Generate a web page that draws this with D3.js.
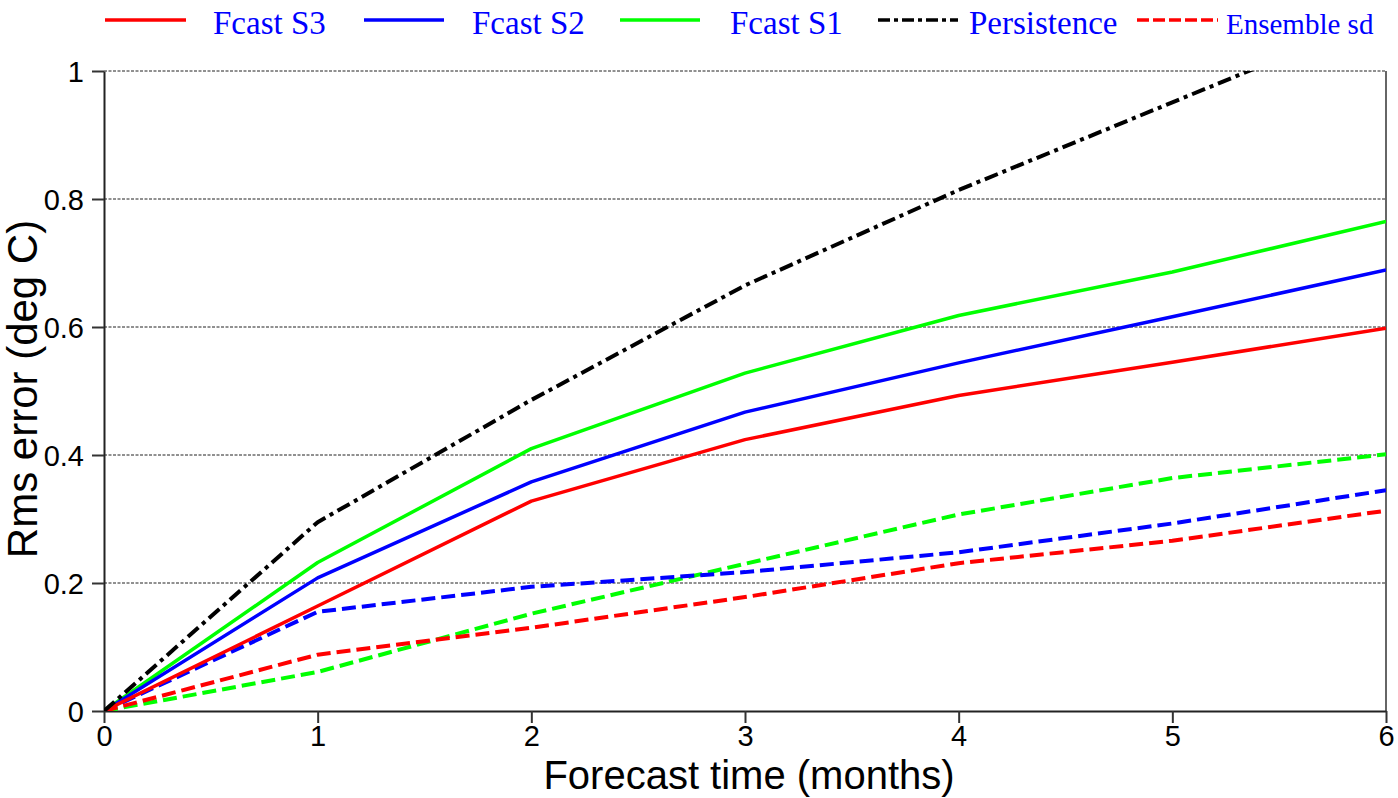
<!DOCTYPE html>
<html>
<head>
<meta charset="utf-8">
<script src="https://cdn.jsdelivr.net/npm/d3@7"></script>
<style>
  html, body { margin: 0; padding: 0; background: #fff; }
  svg { display: block; }
</style>
</head>
<body>
<div id="chart"></div>
<script>
// Data (rms error in deg C by forecast month)
const months = [0, 1, 2, 3, 4, 5, 6];
const fcastS3 = [0, 0.164, 0.328, 0.424, 0.493, 0.545, 0.598];
const fcastS2 = [0, 0.208, 0.358, 0.467, 0.544, 0.616, 0.689];
const fcastS1 = [0, 0.232, 0.410, 0.528, 0.618, 0.686, 0.765];
const persistence = [0, 0.295, 0.486, 0.665, 0.814, 0.951, 1.088];
const sdS3 = [0, 0.088, 0.130, 0.178, 0.231, 0.266, 0.313];
const sdS2 = [0, 0.155, 0.194, 0.217, 0.248, 0.293, 0.345];
const sdS1 = [0, 0.061, 0.152, 0.230, 0.307, 0.364, 0.401];
const yTicks = [0, 0.2, 0.4, 0.6, 0.8, 1];
const legendLabels = ['Fcast S3', 'Fcast S2', 'Fcast S1', 'Persistence', 'Ensemble sd'];

const width = 1398, height = 798;
const margin = { top: 71, right: 12, bottom: 87, left: 104 };
const innerW = 1386 - margin.left;
const innerH = 711 - margin.top;

const svg = d3.select('#chart')
  .append('svg')
  .attr('width', width)
  .attr('height', height);

const g = svg.append('g')
  .attr('transform', `translate(${margin.left},${margin.top})`);

// Scales
const x = d3.scaleLinear().domain([0, 6]).range([0, innerW]);
const y = d3.scaleLinear().domain([0, 1]).range([innerH, 0]);

// Grid lines
g.append('g')
  .selectAll('line')
  .data(yTicks.filter(d => d > 0))
  .join('line')
  .attr('x1', 0)
  .attr('x2', innerW)
  .attr('y1', d => y(d))
  .attr('y2', d => y(d))
  .attr('stroke', '#222')
  .attr('stroke-width', 1)
  .attr('stroke-dasharray', '3,1.5');

// Right border
g.append('line')
  .attr('x1', innerW).attr('x2', innerW)
  .attr('y1', 0).attr('y2', innerH)
  .attr('stroke', '#333')
  .attr('stroke-width', 1.5);

// Axes
const xAxis = d3.axisBottom(x)
  .tickValues(months)
  .tickFormat(d3.format('d'))
  .tickSizeInner(12)
  .tickSizeOuter(0)
  .tickPadding(3);

const yAxis = d3.axisLeft(y)
  .tickValues(yTicks)
  .tickFormat(d => d === 0 || d === 1 ? d3.format('d')(d) : d3.format('.1f')(d))
  .tickSizeInner(12)
  .tickSizeOuter(0)
  .tickPadding(8);

const xAxisDraw = g.append('g')
  .attr('transform', `translate(0,${innerH})`)
  .call(xAxis);

const yAxisDraw = g.append('g')
  .call(yAxis);

[xAxisDraw, yAxisDraw].forEach(a => {
  a.select('.domain').attr('stroke', '#222').attr('stroke-width', 2);
  a.selectAll('.tick line').attr('stroke', '#333').attr('stroke-width', 2);
  a.selectAll('.tick text')
    .attr('fill', '#000')
    .style('font-family', '"Liberation Sans", Arial, sans-serif')
    .style('font-size', '29px');
});

xAxisDraw.selectAll('.tick text').attr('dy', '0.7em');
yAxisDraw.selectAll('.tick text').attr('dy', '0.36em');

// Axis titles
svg.append('text')
  .attr('x', (margin.left + 1386) / 2 + 4)
  .attr('y', 789)
  .attr('text-anchor', 'middle')
  .style('font-family', '"Liberation Sans", Arial, sans-serif')
  .style('font-size', '40px')
  .text('Forecast time (months)');

svg.append('text')
  .attr('transform', 'translate(37,389) rotate(-90)')
  .attr('text-anchor', 'middle')
  .style('font-family', '"Liberation Sans", Arial, sans-serif')
  .style('font-size', '42px')
  .text('Rms error (deg C)');

// Lines
svg.append('defs').append('clipPath')
  .attr('id', 'plot-clip')
  .append('rect')
  .attr('width', innerW)
  .attr('height', innerH);

const line = d3.line()
  .x((d, i) => x(months[i]))
  .y(d => y(d));

const series = [
  { values: sdS1, color: '#00ff00', dash: '14,6', w: 4 },
  { values: sdS2, color: '#0000ff', dash: '14,6', w: 4 },
  { values: sdS3, color: '#ff0000', dash: '14,6', w: 4 },
  { values: fcastS1, color: '#00ff00', dash: null, w: 3.5 },
  { values: fcastS2, color: '#0000ff', dash: null, w: 3.5 },
  { values: fcastS3, color: '#ff0000', dash: null, w: 3.5 },
  { values: persistence, color: '#000', dash: '14,5,4,5', w: 4 }
];

g.append('g')
  .attr('clip-path', 'url(#plot-clip)')
  .selectAll('path')
  .data(series)
  .join('path')
  .attr('d', d => line(d.values))
  .attr('fill', 'none')
  .attr('stroke', d => d.color)
  .attr('stroke-width', d => d.w)
  .attr('stroke-dasharray', d => d.dash)
  .attr('stroke-linejoin', 'round');

// Legend
const legendItems = [
  { label: legendLabels[0], color: '#ff0000', dash: null, x1: 105, x2: 186, tx: 213, size: 33 },
  { label: legendLabels[1], color: '#0000ff', dash: null, x1: 364, x2: 444, tx: 472, size: 33 },
  { label: legendLabels[2], color: '#00ff00', dash: null, x1: 620, x2: 700, tx: 730, size: 33 },
  { label: legendLabels[3], color: '#000', dash: '12,4,4,4', x1: 878, x2: 958, tx: 969, size: 33 },
  { label: legendLabels[4], color: '#ff0000', dash: '12,4', x1: 1137, x2: 1218, tx: 1226, size: 29 }
];

const legend = svg.append('g').attr('class', 'legend');

legend.selectAll('line')
  .data(legendItems)
  .join('line')
  .attr('x1', d => d.x1)
  .attr('x2', d => d.x2)
  .attr('y1', 20)
  .attr('y2', 20)
  .attr('stroke', d => d.color)
  .attr('stroke-width', 3.3)
  .attr('stroke-dasharray', d => d.dash);

legend.selectAll('text')
  .data(legendItems)
  .join('text')
  .attr('x', d => d.tx)
  .attr('y', 34)
  .attr('fill', '#0000ff')
  .style('font-family', '"Liberation Serif", "Times New Roman", serif')
  .style('font-size', d => d.size + 'px')
  .text(d => d.label);
</script>
</body>
</html>
